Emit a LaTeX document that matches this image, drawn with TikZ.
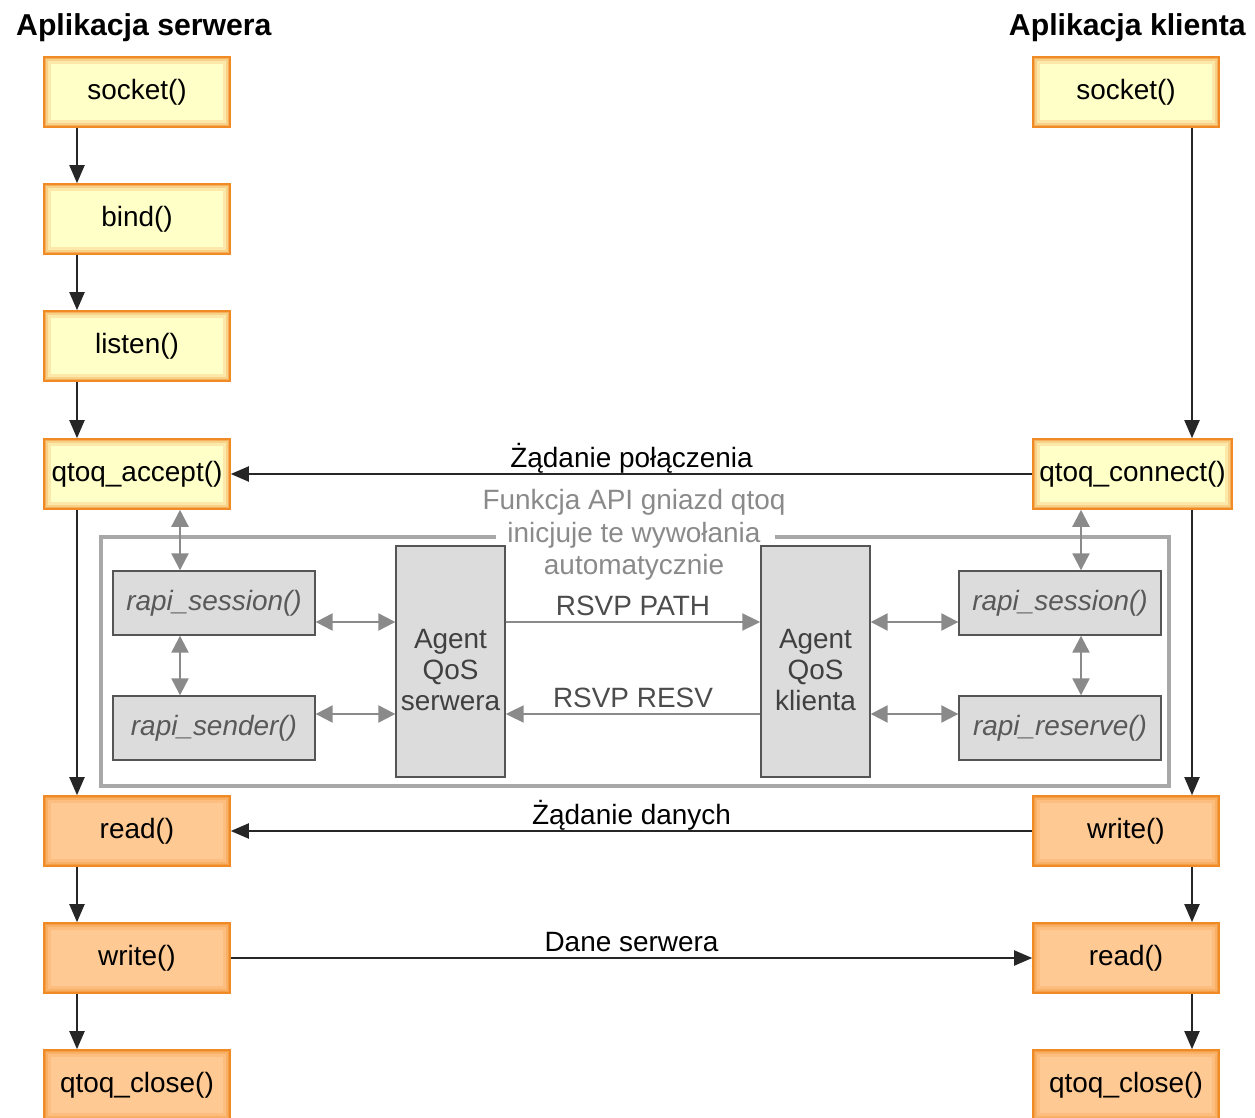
\documentclass[tikz,border=0pt]{standalone}
\usepackage{fontspec}
\setmainfont{Liberation Sans}
\usetikzlibrary{arrows.meta,calc}
\definecolor{fnfill}{HTML}{FFFFC8}
\definecolor{fnbfill}{HTML}{FFC993}
\definecolor{fnedge}{HTML}{F08A24}
\definecolor{apifill}{HTML}{DCDCDC}
\definecolor{apiedge}{HTML}{555555}
\definecolor{lnkgray}{HTML}{8A8A8A}
\definecolor{framegray}{HTML}{A8A8A8}
\newcommand{\boxfont}{\fontsize{15.9}{19}\selectfont}
\newcommand{\headfont}{\fontsize{17.2}{20}\selectfont\bfseries}
\tikzset{
  glow/.style={path picture={
    \foreach \w/\o in {.28/.18,.17/.25,.07/.45}
      \draw[fnedge,line width=\w cm,opacity=\o]
        (path picture bounding box.south west) rectangle (path picture bounding box.north east);}},
  fn/.style={rectangle,draw=fnedge,fill=fnfill,line width=.9pt,minimum width=3.72cm,minimum height=1.4cm,inner sep=0pt,font=\boxfont,glow},
  fnb/.style={fn,fill=fnbfill},
  api/.style={rectangle,draw=apiedge,fill=apifill,line width=.8pt,minimum width=4.04cm,minimum height=1.28cm,inner sep=0pt,font=\boxfont\itshape,text=black!65},
  agt/.style={api,minimum width=2.18cm,minimum height=4.62cm,font=\fontsize{15.9}{17.6}\selectfont,align=center,text=black!75},
  msg/.style={-{Triangle[length=.36cm,width=.3cm]},line width=1.1pt,draw=black!85},
  lnk/.style={{Triangle[length=.34cm,width=.34cm]}-{Triangle[length=.34cm,width=.34cm]},line width=1.3pt,draw=lnkgray},
  rsvp/.style={-{Triangle[length=.36cm,width=.34cm]},line width=1.1pt,draw=lnkgray},
  lb/.style={font=\boxfont,text depth=0pt},
  tb/.style={font=\headfont},
}

\begin{document}
\begin{tikzpicture}[x=.02cm,y=-.02cm]
\useasboundingbox (0,0) rectangle (1255,1118);
% column headings
\node[tb,anchor=west] (hs) at (10,28) {Aplikacja serwera};
\node[tb,anchor=east] (hk) at (1252,28) {Aplikacja klienta};
% server calls
\node[fn]  (sk1) at (137,92)   {socket()};
\node[fn]  (bd)  at (137,219)  {bind()};
\node[fn]  (ls)  at (137,346)  {listen()};
\node[fn]  (acc) at (137,474)  {qtoq\_accept()};
\node[fnb] (rd1) at (137,831)  {read()};
\node[fnb] (wr1) at (137,958)  {write()};
\node[fnb] (cl1) at (137,1085) {qtoq\_close()};
% client calls
\node[fn]  (sk2) at (1126,92)  {socket()};
\node[fn,minimum width=3.98cm] (con) at (1132.5,474) {qtoq\_connect()};
\node[fnb] (wr2) at (1126,831)  {write()};
\node[fnb] (rd2) at (1126,958)  {read()};
\node[fnb] (cl2) at (1126,1085) {qtoq\_close()};
% columns the flow arrows run along
\coordinate (xl) at (77,0);
\coordinate (xr) at (1192,0);
\foreach \a/\b in {sk1/bd, bd/ls, ls/acc, acc/rd1, rd1/wr1, wr1/cl1}
  \draw[msg] (\a.south -| xl) -- (\b.north -| xl);
\foreach \a/\b in {sk2/con, con/wr2, wr2/rd2, rd2/cl2}
  \draw[msg] (\a.south -| xr) -- (\b.north -| xr);
% requests between the two applications
\draw[msg] (con.west) -- node[lb,above=0pt] {Żądanie połączenia} (acc.east);
\draw[msg] (wr2.west) -- node[lb,above=0pt] {Żądanie danych} (rd1.east);
\draw[msg] (wr1.east) -- node[lb,above=0pt] {Dane serwera} (rd2.west);
% calls made by the qtoq socket API on its own
\draw[framegray,line width=2pt] (496,537) -- (101,537) -- (101,786) -- (1169,786) -- (1169,537) -- (775,537);
\node[lb,text=lnkgray,align=center,font=\fontsize{15.9}{18.7}\selectfont] (note) at (634,532)
  {Funkcja API gniazd qtoq\\inicjuje te wywołania\\automatycznie};
\node[api] (rs1) at (214,603)  {rapi\_session()};
\node[api] (rsd) at (214,728)  {rapi\_sender()};
\node[agt] (ag1) at (450.5,661.5) {\rule{0pt}{20.5pt}Agent\\QoS\\serwera};
\node[agt] (ag2) at (815.5,661.5) {\rule{0pt}{20.5pt}Agent\\QoS\\klienta};
\node[api] (rs2) at (1060,603) {rapi\_session()};
\node[api] (rrv) at (1060,728) {rapi\_reserve()};
\coordinate (xg1) at (180,0);
\coordinate (xg2) at (1081,0);
\coordinate (yp) at (0,622);
\coordinate (yr) at (0,714);
\draw[lnk] (acc.south -| xg1) -- (rs1.north -| xg1);
\draw[lnk] (rs1.south -| xg1) -- (rsd.north -| xg1);
\draw[lnk] (con.south -| xg2) -- (rs2.north -| xg2);
\draw[lnk] (rs2.south -| xg2) -- (rrv.north -| xg2);
\draw[lnk] (rs1.east |- yp) -- (ag1.west |- yp);
\draw[lnk] (rsd.east |- yr) -- (ag1.west |- yr);
\draw[lnk] (ag2.east |- yp) -- (rs2.west |- yp);
\draw[lnk] (ag2.east |- yr) -- (rrv.west |- yr);
\draw[rsvp] (ag1.east |- yp) -- node[lb,above=0pt,text=black!70] {RSVP PATH} (ag2.west |- yp);
\draw[rsvp] (ag2.west |- yr) -- node[lb,above=0pt,text=black!70] {RSVP RESV} (ag1.east |- yr);
\end{tikzpicture}
\end{document}
